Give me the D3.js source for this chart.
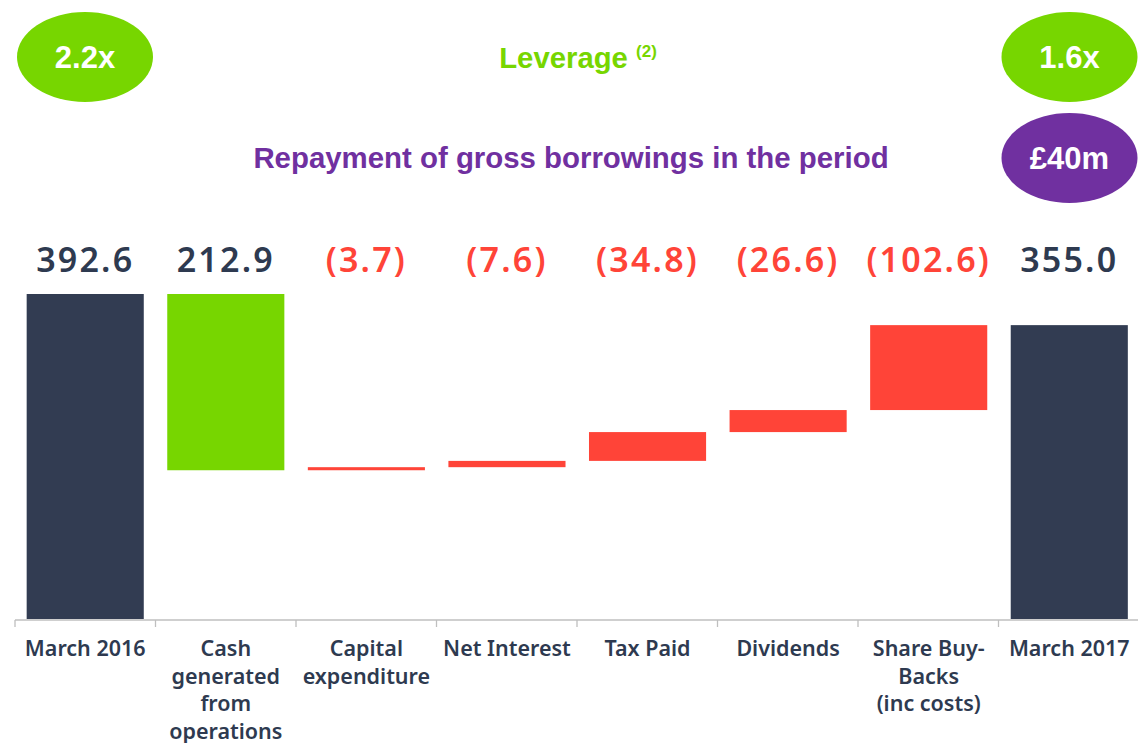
<!DOCTYPE html>
<html>
<head>
<meta charset="utf-8">
<script src="https://cdn.jsdelivr.net/npm/d3@7"></script>
<style>
  body { margin: 0; background: #fff; }
  svg { display: block; }
</style>
</head>
<body>
<div id="chart"></div>
<script>
// net debt bridge, £m
const categories = ["March 2016", "Cash generated from operations", "Capital expenditure", "Net Interest",
                    "Tax Paid", "Dividends", "Share Buy-Backs (inc costs)", "March 2017"];
const catLines = [["March 2016"], ["Cash", "generated", "from", "operations"], ["Capital", "expenditure"],
                  ["Net Interest"], ["Tax Paid"], ["Dividends"], ["Share Buy-", "Backs", "(inc costs)"], ["March 2017"]];
const debtChange = [392.6, -212.9, 3.7, 7.6, 34.8, 26.6, 102.6, 355.0];
const barType = ["total", "down", "up", "up", "up", "up", "up", "total"];
const valueLabels = ["392.6", "212.9", "(3.7)", "(7.6)", "(34.8)", "(26.6)", "(102.6)", "355.0"];

const leverageStart = "2.2x", leverageEnd = "1.6x", repayment = "£40m";

const W = 1138, H = 743;
const colors = { total: "#323c52", down: "#77d600", up: "#ff4438" };
const green = "#77d600", purple = "#7030a0", ink = "#2e3a50";

const svg = d3.select("#chart").append("svg")
  .attr("width", W).attr("height", H);

// waterfall start/end
let run = 0;
const bars = debtChange.map((v, i) => {
  let y0, y1;
  if (barType[i] === "total") { y0 = 0; y1 = v; run = v; }
  else { y0 = run; y1 = run + v; run = y1; }
  return { cat: categories[i], lo: Math.min(y0, y1), hi: Math.max(y0, y1), type: barType[i], i };
});

const x = d3.scaleBand().domain(categories).range([15, 1139.5]).paddingInner(0.167).paddingOuter(0.083);
const xTick = d3.scaleLinear().domain([0, categories.length]).range([15, 1139]);
const y = d3.scaleLinear().domain([0, 400]).range([619, 619 - 400 * 0.8278]);

svg.append("g").selectAll("rect").data(bars).join("rect")
  .attr("x", d => x(d.cat))
  .attr("width", x.bandwidth())
  .attr("y", d => y(d.hi))
  .attr("height", d => Math.max(y(d.lo) - y(d.hi), 1))
  .attr("fill", d => colors[d.type]);

// axis line + ticks between categories
const ax = svg.append("g").attr("stroke", "#bfbfbf").attr("stroke-width", 1.3);
ax.append("line").attr("x1", 15).attr("x2", W).attr("y1", 620).attr("y2", 620);
ax.selectAll(".tk").data(d3.range(categories.length)).join("line")
  .attr("x1", d => xTick(d)).attr("x2", d => xTick(d))
  .attr("y1", 620).attr("y2", 627);

// value labels
svg.append("g").selectAll("text").data(valueLabels).join("text")
  .attr("x", (d, i) => x(categories[i]) + x.bandwidth() / 2)
  .attr("y", 272)
  .attr("text-anchor", "middle")
  .attr("font-family", "Noto Sans, sans-serif")
  .attr("font-weight", 600)
  .attr("font-size", 34)
  .attr("letter-spacing", 2.2)
  .attr("fill", (d, i) => barType[i] === "up" ? colors.up : ink)
  .text(d => d);

// category labels
const cl = svg.append("g").selectAll("text").data(catLines).join("text")
  .attr("x", (d, i) => x(categories[i]) + x.bandwidth() / 2)
  .attr("y", 656)
  .attr("text-anchor", "middle")
  .attr("font-family", "Noto Sans, sans-serif")
  .attr("font-weight", 600)
  .attr("font-size", 21.5)
  .attr("fill", ink);
cl.selectAll("tspan").data(d => d).join("tspan")
  .attr("x", function() { return d3.select(this.parentNode).attr("x"); })
  .attr("dy", (d, j) => j === 0 ? 0 : 27.5)
  .text(d => d);

// header: ellipses and titles
const badge = (cx, cy, fill, label) => {
  svg.append("ellipse").attr("cx", cx).attr("cy", cy).attr("rx", 68).attr("ry", 45).attr("fill", fill);
  svg.append("text").attr("x", cx).attr("y", cy + 11).attr("text-anchor", "middle")
    .attr("font-family", "Liberation Sans, Arial, sans-serif").attr("font-weight", "bold")
    .attr("font-size", 31).attr("fill", "#fff").text(label);
};
badge(85, 57, green, leverageStart);
badge(1069.5, 57, green, leverageEnd);
badge(1069.5, 158, purple, repayment);

const lev = svg.append("text").attr("x", 578).attr("y", 68).attr("text-anchor", "middle")
  .attr("font-family", "Liberation Sans, Arial, sans-serif").attr("font-weight", "bold")
  .attr("font-size", 29.3).attr("fill", green);
lev.append("tspan").text("Leverage ");
lev.append("tspan").attr("font-size", 17).attr("dy", -11).text("(2)");

svg.append("text").attr("x", 571).attr("y", 168).attr("text-anchor", "middle")
  .attr("font-family", "Liberation Sans, Arial, sans-serif").attr("font-weight", "bold")
  .attr("font-size", 29.4).attr("fill", purple)
  .text("Repayment of gross borrowings in the period");
</script>
</body>
</html>
